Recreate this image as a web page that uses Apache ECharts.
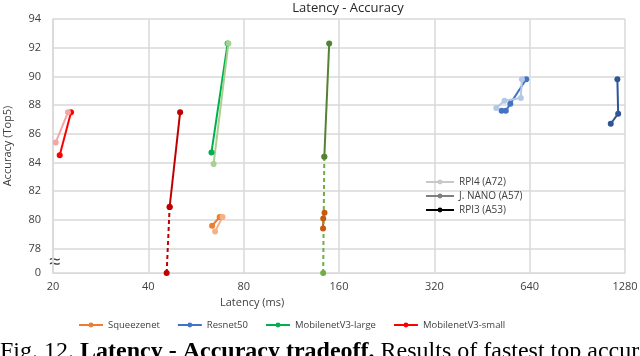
<!DOCTYPE html>
<html>
<head>
<meta charset="utf-8">
<style>
  html, body { margin: 0; padding: 0; background: #fff; }
  #main { width: 640px; height: 356px; }
</style>
<script src="https://cdn.jsdelivr.net/npm/echarts@6/dist/echarts.min.js"></script>
</head>
<body>
<div id="main"></div>
<script>
// latency (ms), top5 accuracy (%) ; accuracy 0 = failed model (drawn under the axis break)
const xTicks = [20, 40, 80, 160, 320, 640, 1280]
const models = ['Squeezenet', 'Resnet50', 'MobilenetV3-large', 'MobilenetV3-small']
const devices = ['RPI4 (A72)', 'J. NANO (A57)', 'RPI3 (A53)']

const squeezeRpi4 = [[65.0, 79.2], [68.6, 80.2]]
const squeezeNano = [[63.6, 79.6], [67.2, 80.2]]
const squeezeRpi3 = [[142.5, 79.4], [142.7, 80.1], [144.0, 80.5]]

const resnetRpi4 = [[502, 87.8], [533, 88.3], [600, 88.5], [605, 89.8]]
const resnetNano = [[522, 87.6], [538, 87.6], [556, 88.1], [624, 89.8]]
const resnetRpi3 = [[1154, 86.7], [1218, 87.4], [1211, 89.8]]

const largeRpi4 = [[64.3, 83.9], [71.6, 92.3]]
const largeNano = [[63.3, 84.7], [71.2, 92.3]]
const largeRpi3 = [[143.8, 84.4], [149.0, 92.3]]
const largeRpi3Fail = [[142.6, 0], [143.8, 84.4]]

const smallRpi4 = [[20.4, 85.4], [22.3, 87.5]]
const smallNano = [[21.0, 84.5], [22.8, 87.5]]
const smallRpi3 = [[46.7, 80.9], [50.4, 87.5]]
const smallRpi3Fail = [[45.7, 0], [46.7, 80.9]]

const BREAK_Y = 76.3

// log2 latency axis, with the 0 accuracy row put under the break
function toXY(list) {
  return list.map(p => [Math.log2(p[0] / 20), p[1] === 0 ? BREAK_Y : p[1]])
}

function line(name, data, color, dashed) {
  return {
    name: name,
    type: 'line',
    data: toXY(data),
    symbol: 'circle',
    symbolSize: 6,
    color: color,
    lineStyle: { width: 2, type: dashed ? [4, 3] : 'solid' },
    emphasis: { disabled: true },
    z: 3
  }
}

const chart = echarts.init(document.getElementById('main'))

const series = [
  // nano first so the bottom legend takes the medium colour
  line(models[0], squeezeNano, '#ED7D31'),
  line(models[0], squeezeRpi4, '#F4B183'),
  line(models[0], squeezeRpi3, '#C55A11'),
  line(models[1], resnetNano, '#4472C4'),
  line(models[1], resnetRpi4, '#B4C7E7'),
  line(models[1], resnetRpi3, '#2F5597'),
  line(models[2], largeNano, '#00B050'),
  line(models[2], largeRpi4, '#A9D18E'),
  line(models[2], largeRpi3Fail, '#70AD47', true),
  line(models[2], largeRpi3, '#548235'),
  line(models[3], smallNano, '#FF0000'),
  line(models[3], smallRpi4, '#F4A6A6'),
  line(models[3], smallRpi3Fail, '#C00000', true),
  line(models[3], smallRpi3, '#C00000'),
  line(devices[0], [], '#C8C8C8'),
  line(devices[1], [], '#7F7F7F'),
  line(devices[2], [], '#000000')
]

const option = {
  animation: false,
  backgroundColor: '#fff',
  title: {
    text: 'Latency - Accuracy',
    left: 343,
    textAlign: 'center',
    top: -3,
    textStyle: { fontSize: 13, fontWeight: 'normal', color: '#262626', fontFamily: 'Open Sans' }
  },
  grid: { left: 53, right: 15, top: 19, bottom: 83, outerBoundsMode: 'none' },
  legend: [
    {
      data: models,
      left: 73,
      top: 315,
      itemWidth: 24,
      itemHeight: 6,
      itemGap: 17,
      textStyle: { fontSize: 9.5, color: '#404040', fontFamily: 'Open Sans' }
    },
    {
      data: devices,
      orient: 'vertical',
      left: 420,
      top: 172,
      itemWidth: 28,
      itemHeight: 6,
      itemGap: 4,
      textStyle: { fontSize: 10, color: '#404040', fontFamily: 'Open Sans' }
    }
  ],
  xAxis: {
    type: 'value',
    min: 0,
    max: 6,
    interval: 1,
    axisLine: { lineStyle: { color: '#d9d9d9' } },
    axisTick: { show: false },
    axisLabel: {
      margin: 8,
      fontSize: 11,
      color: '#404040',
      fontFamily: 'Open Sans',
      formatter: v => String(xTicks[Math.round(v)])
    },
    splitLine: { lineStyle: { color: '#d9d9d9', width: 1.5 } }
  },
  yAxis: {
    type: 'value',
    min: BREAK_Y,
    max: 94,
    splitNumber: 9,
    name: 'Accuracy (Top5)',
    nameLocation: 'middle',
    nameGap: 40,
    nameTextStyle: { fontSize: 11, color: '#404040', fontFamily: 'Open Sans' },
    axisLine: { show: true, lineStyle: { color: '#d9d9d9', width: 1.5 } },
    axisTick: { show: false },
    axisLabel: {
      margin: 12,
      fontSize: 11,
      color: '#404040',
      fontFamily: 'Open Sans',
      formatter: v => (v < 77 ? '0' : String(v))
    },
    splitLine: { lineStyle: { color: '#d9d9d9', width: 1.5 } }
  },
  graphic: [
    {
      type: 'text',
      left: 220,
      top: 297,
      style: { text: 'Latency (ms)', fontSize: 11, fill: '#404040', fontFamily: 'Open Sans' }
    },
    {
      type: 'text',
      x: 55,
      y: 262,
      style: {
        text: '≈',
        fontSize: 20,
        fill: '#404040',
        align: 'center',
        verticalAlign: 'middle',
        backgroundColor: '#fff'
      }
    },
    {
      type: 'text',
      left: 0,
      top: 340,
      style: {
        rich: {
          n: { fontSize: 24, fontFamily: 'Liberation Serif', fill: '#000' },
          b: { fontSize: 24, fontFamily: 'Liberation Serif', fontWeight: 'bold', fill: '#000' }
        },
        text: '{n|Fig. 12. }{b|Latency - Accuracy tradeoff.}{n| Results of fastest top accuracy}'
      }
    }
  ],
  series: series
}

chart.setOption(option)
window.addEventListener('resize', () => {
  chart.resize()
})
</script>
</body>
</html>
